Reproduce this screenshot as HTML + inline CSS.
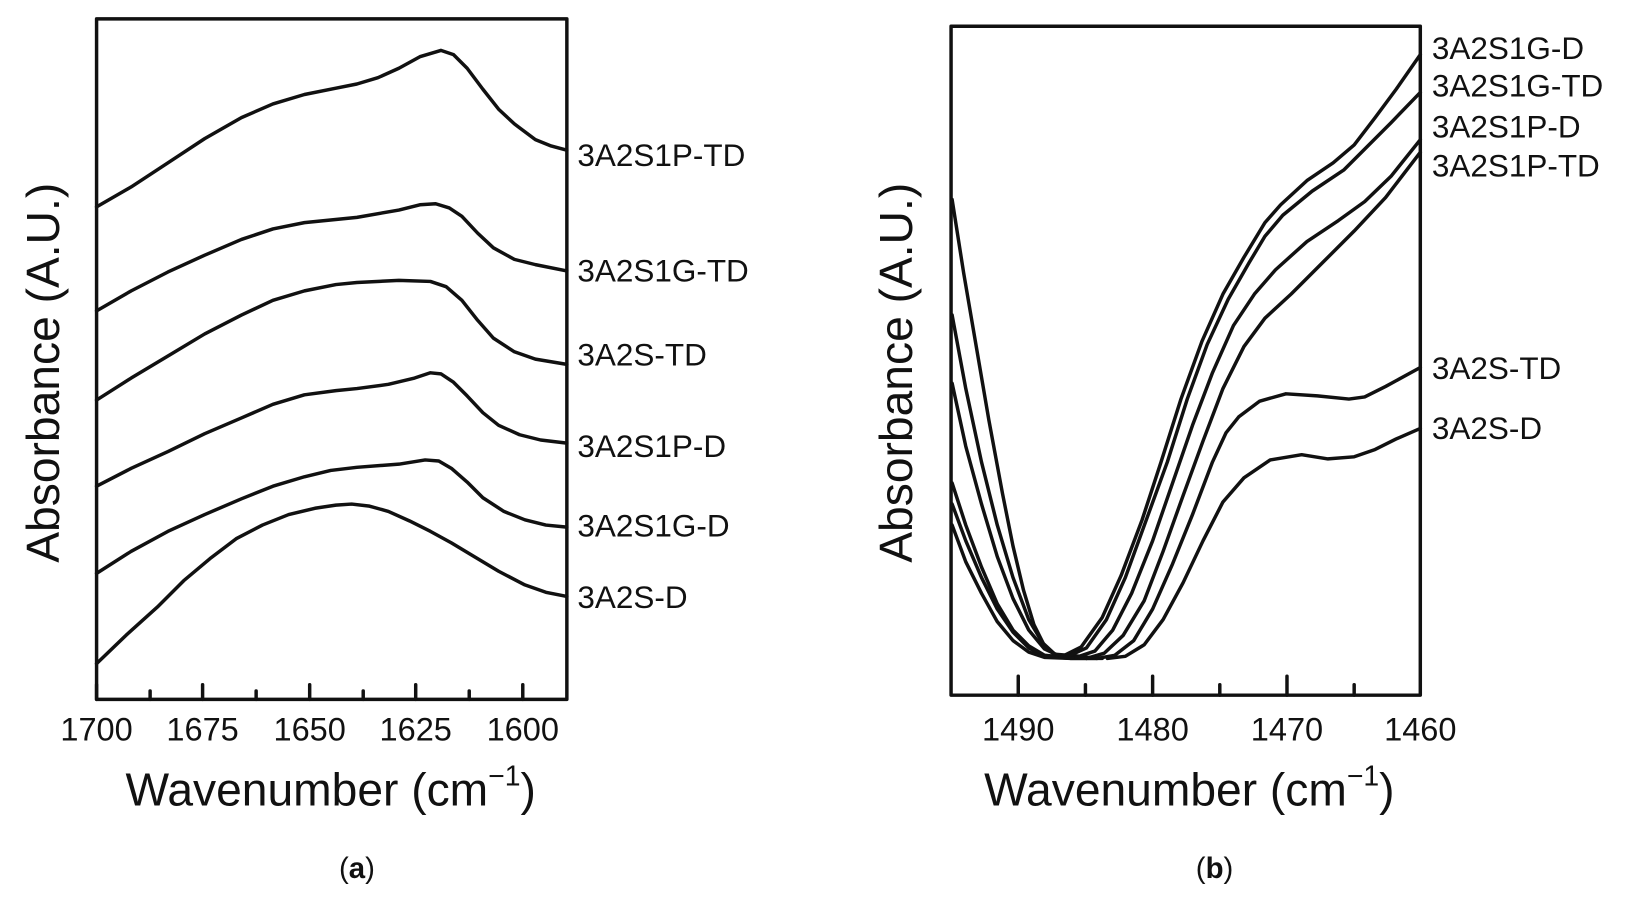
<!DOCTYPE html>
<html><head><meta charset="utf-8"><style>
html,body{margin:0;padding:0;background:#fff;}
svg{display:block}
text{font-family:"Liberation Sans",sans-serif;fill:#111}
</style></head><body>
<svg width="1646" height="901" viewBox="0 0 1568 858" preserveAspectRatio="none">
<g fill="none" stroke="#111" stroke-width="3.3" stroke-linejoin="round" stroke-linecap="round">
<rect x="92" y="18" width="448" height="648"/>
<path d="M92 666v-14M143 666v-8M193 666v-14M244 666v-8M295 666v-14M346 666v-8M396 666v-14M447 666v-8M498 666v-14"/>
<polyline points="92,197 125,178 160,155 195,132 230,112 260,99 290,90 320,84 340,80 360,74 380,65 400,54 420,48 432,52 445,65 460,85 475,104 490,118 510,133 525,139 540,143"/>
<polyline points="92,296 125,277 160,259 195,243 230,228 260,218 290,212 340,207 380,200 400,195 415,194 428,198 440,206 455,222 470,236 490,247 510,252 540,258"/>
<polyline points="92,381 125,360 160,339 195,318 230,300 260,286 290,277 320,271 340,269 380,267 410,268 425,273 440,286 455,305 470,322 490,335 510,342 540,347"/>
<polyline points="92,463 125,446 160,430 195,413 230,398 260,385 290,376 320,372 340,370 370,366 395,360 410,355 420,356 432,364 445,377 460,393 475,405 495,414 515,419 540,422"/>
<polyline points="92,546 125,525 160,506 195,490 230,475 260,463 290,454 315,448 340,445 380,442 405,438 418,439 430,446 445,459 460,474 480,487 500,495 520,500 540,502"/>
<polyline points="92,632 120,605 150,578 175,553 200,532 225,513 250,500 275,490 300,484 320,481 335,480 352,482 370,487 390,496 410,506 430,517 450,529 475,544 500,557 520,564 540,568"/>
<rect x="906" y="25" width="447" height="637"/>
<path d="M970 662v-18M1034 662v-10M1098 662v-18M1162 662v-10M1226 662v-18M1290 662v-10"/>
<polyline points="907,190 918,260 930,330 942,400 955,470 965,520 975,562 985,595 995,615 1005,624 1025,625"/>
<polyline points="907,300 920,370 935,440 950,500 965,550 980,590 993,612 1005,623 1030,625"/>
<polyline points="907,365 920,425 935,480 950,530 965,570 980,600 995,618 1010,625 1035,626"/>
<polyline points="907,460 920,500 935,540 950,575 965,600 980,615 995,624 1015,626 1040,626"/>
<polyline points="907,480 920,515 935,550 950,580 965,602 980,617 995,625 1020,627 1045,627"/>
<polyline points="907,500 920,535 935,565 950,592 965,610 980,621 995,626 1020,627 1050,627"/>
<polyline points="1010,626 1030,616 1050,588 1068,548 1088,495 1106,440 1125,380 1145,325 1165,280 1185,245 1205,212 1220,195 1245,172 1270,155 1290,138 1310,112 1330,85 1353,52"/>
<polyline points="1015,626 1035,617 1054,590 1072,550 1092,495 1112,440 1131,380 1150,328 1170,285 1190,250 1205,225 1222,205 1250,182 1280,162 1300,142 1325,117 1353,88"/>
<polyline points="1025,626 1043,620 1060,600 1078,565 1098,515 1117,460 1136,405 1155,355 1175,310 1195,280 1215,257 1245,230 1275,210 1300,192 1325,168 1353,133"/>
<polyline points="1035,627 1052,622 1070,605 1090,572 1108,525 1127,472 1146,420 1165,370 1185,330 1205,303 1230,280 1260,250 1290,220 1320,188 1353,145"/>
<polyline points="1045,627 1062,624 1080,610 1098,580 1117,537 1136,490 1155,440 1168,412 1180,397 1200,382 1225,375 1255,377 1285,380 1300,378 1320,368 1353,350"/>
<polyline points="1055,627 1072,625 1090,614 1108,590 1127,555 1146,515 1165,478 1185,455 1210,438 1240,433 1265,437 1290,435 1310,428 1330,418 1353,408"/>
</g>
<g font-size="31" text-anchor="middle">
<text x="92" y="705">1700</text><text x="193" y="705">1675</text><text x="295" y="705">1650</text><text x="396" y="705">1625</text><text x="498" y="705">1600</text>
<text x="970" y="705">1490</text><text x="1098" y="705">1480</text><text x="1226" y="705">1470</text><text x="1353" y="705">1460</text>
</g>
<g font-size="44" text-anchor="middle">
<text x="315" y="767">Wavenumber (cm<tspan font-size="27" dy="-19">−1</tspan><tspan dy="19">)</tspan></text>
<text x="1133" y="767">Wavenumber (cm<tspan font-size="27" dy="-19">−1</tspan><tspan dy="19">)</tspan></text>
<text transform="translate(56,355) rotate(-90)">Absorbance (A.U.)</text>
<text transform="translate(869,355) rotate(-90)">Absorbance (A.U.)</text>
</g>
<g font-size="30">
<text x="550" y="158">3A2S1P-TD</text>
<text x="550" y="268">3A2S1G-TD</text>
<text x="550" y="348">3A2S-TD</text>
<text x="550" y="435">3A2S1P-D</text>
<text x="550" y="511">3A2S1G-D</text>
<text x="550" y="579">3A2S-D</text>
<text x="1364" y="56">3A2S1G-D</text>
<text x="1364" y="92">3A2S1G-TD</text>
<text x="1364" y="131">3A2S1P-D</text>
<text x="1364" y="168">3A2S1P-TD</text>
<text x="1364" y="361">3A2S-TD</text>
<text x="1364" y="418">3A2S-D</text>
</g>
<g font-size="28" text-anchor="middle" style="font-family:'Liberation Serif',serif">
<text x="340" y="836">(<tspan font-weight="bold">a</tspan>)</text>
<text x="1157" y="836">(<tspan font-weight="bold">b</tspan>)</text>
</g>
</svg>
</body></html>
